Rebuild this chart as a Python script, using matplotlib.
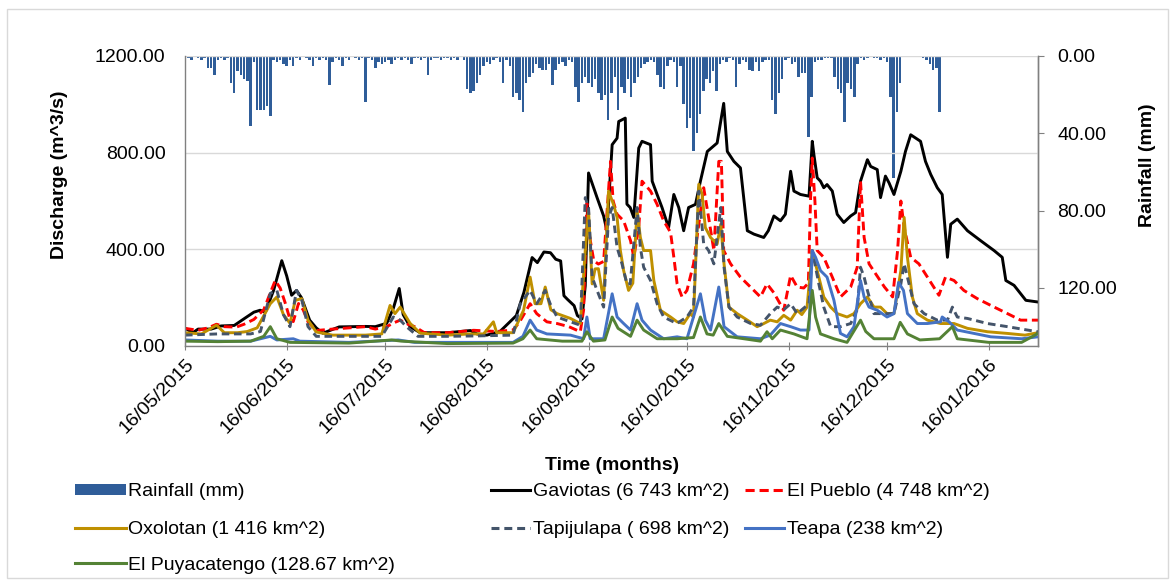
import numpy as np
import matplotlib
matplotlib.use("Agg")
import matplotlib.pyplot as plt
import matplotlib.dates as mdates
from matplotlib.lines import Line2D
from matplotlib.patches import Patch, Rectangle
from datetime import datetime

plt.rcParams['font.family'] = ['Liberation Sans', 'DejaVu Sans']

START = datetime(2015, 5, 16)
END_DAY = 260

tick_labels = ["16/05/2015", "16/06/2015", "16/07/2015", "16/08/2015", "16/09/2015",
               "16/10/2015", "16/11/2015", "16/12/2015", "16/01/2016"]
tick_dates = [datetime(2015, 5, 16), datetime(2015, 6, 16), datetime(2015, 7, 16),
              datetime(2015, 8, 16), datetime(2015, 9, 16), datetime(2015, 10, 16),
              datetime(2015, 11, 16), datetime(2015, 12, 16), datetime(2016, 1, 16)]

# Daily rainfall (mm), day 0 = 16/05/2015
rainfall = [2, 1, 2, 0, 1, 2, 1, 6, 6, 10, 2, 1, 2, 1, 14, 19, 8, 10, 12, 13,
            36, 3, 28, 28, 28, 26, 31, 2, 3, 2, 4, 5, 2, 5, 1, 2, 0, 1, 2, 5,
            1, 2, 1, 2, 15, 3, 1, 2, 5, 1, 2, 0, 1, 2, 1, 24, 1, 2, 6, 3,
            4, 3, 2, 4, 2, 1, 2, 1, 2, 4, 1, 1, 2, 1, 10, 2, 1, 1, 2, 1,
            1, 2, 1, 2, 0, 2, 17, 19, 18, 14, 10, 5, 3, 4, 2, 1, 3, 14, 2, 5,
            21, 19, 23, 29, 14, 11, 9, 4, 6, 7, 7, 4, 15, 7, 4, 3, 5, 2, 3, 16,
            24, 14, 11, 14, 16, 12, 19, 23, 20, 33, 19, 11, 28, 16, 19, 12, 21, 14, 11, 6,
            4, 3, 2, 3, 10, 16, 17, 5, 2, 3, 16, 5, 25, 37, 32, 49, 40, 30, 18, 12,
            14, 8, 18, 4, 2, 3, 1, 2, 16, 4, 2, 3, 7, 8, 3, 8, 3, 2, 2, 23,
            30, 19, 12, 2, 1, 4, 3, 11, 9, 9, 42, 21, 3, 2, 2, 1, 1, 1, 11, 17,
            19, 34, 14, 17, 21, 4, 1, 2, 1, 0, 1, 1, 2, 1, 3, 21, 63, 29, 14, 0,
            0, 0, 0, 0, 0, 1, 2, 4, 7, 6, 29]

gav_days = [0, 2.4, 4, 8, 11, 15, 18.8, 21, 22.9, 24.5, 27, 29.5, 31, 32.5, 34, 35.5, 38, 40, 42, 47,
            55, 58, 61.5, 63.5, 65.3, 66.5, 68.6, 71.7, 80, 87, 89, 92, 96, 101, 103.3, 105.8, 107.4, 109.4, 111.4, 113,
            114.5, 115.5, 116.5, 118.6, 119.6, 121, 122, 123, 125.6, 127.6, 128.6, 130.2, 131.7, 132.2, 134.2, 134.7, 135.7, 136.8, 138.3, 139.3,
            141.9, 142.4, 143.9, 145.4, 147.4, 149, 150.5, 152, 153.5, 155.6, 157.1, 159.2, 162.2, 164.2, 165.3, 167.3, 169.3, 171.4, 173.4, 176.4,
            177.8, 179.5, 181.5, 183, 184.6, 185.6, 187.6, 190.2, 191.2, 191.7, 192.7, 193.7, 194.7, 195.7, 197.3, 198.8, 200.8, 202.9, 204.4, 205.9,
            208, 209, 211, 212, 213.5, 214.6, 216.1, 218.2, 219.6, 221.2, 224.2, 225.7, 227.3, 229.3, 230.8, 232.4, 233.4, 235.4, 238.5, 242.5,
            246.6, 249.1, 250.2, 252.7, 256.3, 260]
gaviotas = [74, 55, 70, 70, 83, 85, 120, 140, 148, 140, 230, 353, 290, 210, 230, 200, 107, 75, 53, 79,
            81, 80, 94, 156, 238, 130, 80, 55, 55, 64, 50, 45, 60, 126, 222, 366, 345, 389, 386, 359,
            352, 208, 194, 167, 126, 112, 249, 716, 614, 538, 477, 833, 860, 929, 943, 587, 573, 532, 819, 847,
            833, 682, 627, 573, 490, 627, 573, 477, 573, 586, 682, 805, 840, 1004, 805, 764, 737, 477, 463, 449,
            477, 538, 518, 545, 723, 641, 627, 620, 847, 791, 696, 682, 655, 668, 641, 545, 511, 538, 552, 682,
            771, 743, 730, 614, 703, 675, 627, 723, 805, 874, 847, 764, 710, 655, 627, 367, 504, 525, 477, 436,
            395, 367, 271, 251, 189, 182]

pue_days = [0, 4, 7, 9.6, 12, 15.6, 18, 21, 24, 26, 27.5, 29, 30.5, 32, 33, 34.6, 36, 37.5, 40, 45,
            50, 55, 58, 61.5, 63.5, 65.6, 68, 70, 73, 80, 88, 95, 100, 102, 105.2, 107.2, 110.3, 113.4, 117, 120.5,
            121.5, 122.5, 123.5, 124.6, 126, 127.6, 129.7, 130.5, 131.7, 133.7, 135.8, 136.8, 138.3, 139.3, 141.9, 143.9, 145.9, 148, 149, 150,
            151.5, 153, 155, 158.1, 159.6, 161.2, 162.7, 163.5, 164.2, 166.3, 169.3, 173.4, 175.4, 177.4, 179.5, 182.5, 184.6, 186.6, 188.6, 190,
            190.7, 191.2, 192, 192.7, 194.7, 197.3, 199.8, 202.9, 204.9, 205.9, 207, 208.5, 210.5, 213.2, 215.7, 217.2, 218.2, 219.2, 221.2, 223.7,
            226.3, 229.8, 231.8, 234.4, 237.4, 241.5, 245.6, 250.7, 254.7, 260]
el_pueblo = [73, 65, 75, 90, 80, 78, 90, 110, 150, 220, 271, 240, 180, 110, 101, 176, 150, 100, 64, 70,
             75, 80, 70, 80, 95, 107, 90, 80, 55, 55, 65, 60, 66, 100, 175, 134, 100, 93, 80, 59,
             150, 590, 440, 353, 339, 350, 764, 600, 545, 518, 436, 367, 490, 682, 641, 586, 518, 470, 367, 257,
             203, 230, 340, 655, 532, 395, 764, 764, 395, 340, 285, 230, 203, 257, 220, 148, 292, 244, 240, 260,
             620, 778, 600, 395, 367, 285, 203, 244, 326, 682, 449, 340, 299, 244, 203, 395, 600, 490, 367, 340,
             285, 210, 285, 271, 230, 196, 168, 134, 107, 107]

oxo_days = [0, 5, 9.6, 12, 16, 19, 22, 26, 28, 30, 32, 33.6, 35.6, 37.5, 40, 45, 55, 60, 62.5, 64,
            65.6, 68.6, 71.7, 80, 87, 91, 94, 95, 100, 103.2, 105.2, 106.7, 108.5, 109.8, 111.5, 113.4, 117.5, 120.5, 122, 123,
            124.1, 125, 126, 127.6, 129.1, 130.6, 131.7, 132.7, 133.7, 135.2, 136.5, 137.8, 138.8, 139.8, 141.9, 142.9, 144.9, 148, 150, 152,
            154, 155, 156.6, 157.6, 158.6, 160.2, 162.2, 163.3, 164.3, 165.8, 168.3, 171.4, 174.4, 176, 178.4, 180.5, 182.5, 184.6, 186.6, 188,
            189.6, 191.2, 192.7, 194.7, 196.8, 198.8, 201.8, 203.9, 205.9, 208, 210, 212, 214, 216.1, 218.2, 219.2, 220.2, 221.7, 223.2, 226.3,
            230.3, 234.4, 238.5, 244.6, 250.7, 256, 260]
oxolotan = [55, 50, 86, 55, 55, 60, 75, 175, 203, 130, 94, 189, 196, 107, 58, 45, 45, 50, 168, 134,
            161, 94, 53, 45, 50, 50, 100, 55, 55, 148, 285, 175, 175, 244, 150, 134, 114, 93, 395, 559,
            257, 319, 320, 189, 641, 586, 532, 395, 312, 230, 260, 559, 449, 395, 395, 271, 148, 120, 100, 93,
            134, 120, 669, 629, 490, 449, 422, 504, 340, 161, 134, 107, 80, 90, 107, 100, 127, 107, 148, 130,
            161, 395, 312, 203, 161, 134, 120, 134, 175, 203, 161, 161, 134, 134, 312, 532, 367, 203, 134, 107,
            93, 93, 73, 59, 52, 45, 55]

tap_days = [0, 10, 20, 23, 26, 28, 30, 32, 34, 35.6, 37.5, 40, 50, 60, 63.5, 65.6, 67.5, 71, 80, 90,
            100, 102.2, 105.2, 107.2, 109.8, 111.3, 113.4, 117.5, 120.5, 122, 123, 124.1, 125.6, 127.6, 129.1, 130.2, 131.7, 133.2, 134.7, 135.7,
            137.8, 138.8, 139.8, 141.9, 143.9, 145.9, 149.9, 153, 155, 156.6, 158.1, 159.6, 161.2, 163.3, 164.3, 165.8, 168.3, 172.4, 175.4, 178.4,
            180.5, 182.5, 184.6, 186.6, 190.2, 191.2, 193.2, 194.7, 196.8, 199.8, 202.9, 204.9, 205.9, 207, 208, 210, 212, 216.1, 218.2, 219.2,
            220.7, 222.2, 225.3, 229.3, 232.4, 233.9, 235.4, 238.5, 244.6, 250.7, 256.8, 260]
tapijulapa = [45, 50, 50, 60, 218, 230, 130, 80, 230, 190, 80, 40, 40, 40, 120, 107, 80, 40, 40, 42,
              45, 175, 230, 175, 230, 175, 120, 100, 86, 614, 573, 285, 230, 161, 532, 573, 408, 340, 257, 257,
              573, 408, 326, 271, 175, 120, 93, 120, 161, 641, 422, 395, 340, 573, 326, 161, 120, 93, 86, 134,
              161, 150, 175, 134, 175, 395, 257, 161, 80, 80, 93, 150, 326, 285, 230, 134, 134, 134, 257, 340,
              257, 175, 134, 107, 107, 161, 120, 114, 93, 80, 66, 59]

tea_days = [0, 10, 20, 26, 28, 33, 35, 50, 65, 70, 90, 100, 103, 105.2, 107.2, 110.3, 117.5, 121.5, 122.5, 123.5,
            127.6, 130.2, 131.7, 133.7, 135.8, 137.8, 139.3, 141.9, 145.9, 150, 153, 157.1, 158.6, 160.2, 162.7, 164.3, 168.3, 175.4, 178.4, 181.5,
            184.6, 187.6, 190.2, 191.2, 192.2, 193.7, 195.7, 197.8, 199.8, 201.8, 203.9, 205.9, 207, 208.5, 211, 214, 216.1, 217.5, 219, 220.2,
            223.2, 226.3, 230.3, 230.8, 232.9, 235.4, 240.5, 245.6, 255, 260]
teapa = [25, 20, 20, 40, 25, 30, 20, 15, 25, 15, 15, 15, 40, 107, 66, 50, 45, 30, 120, 30,
         30, 216, 120, 93, 66, 175, 107, 66, 30, 38, 30, 216, 107, 66, 244, 80, 38, 30, 45, 93,
         80, 66, 66, 395, 367, 312, 285, 189, 52, 38, 80, 271, 203, 161, 148, 120, 134, 263, 230, 134,
         93, 93, 100, 120, 100, 66, 52, 38, 30, 38]

puy_days = [0, 10, 20, 24, 26, 28, 32, 50, 63, 66, 80, 100, 103, 105.2, 107.2, 115, 121, 122.5, 124.5, 128,
            130.2, 132, 135.8, 137.8, 139.8, 143.9, 150, 155, 157.1, 159.1, 161, 162.7, 165.3, 175.4, 177.4, 179, 181.5, 185.6, 189.6, 191.2,
            192.2, 193.7, 197.8, 201.8, 205.9, 207.5, 210, 216.1, 218, 220.2, 224, 230, 233.9, 235.4, 245, 255, 260]
puyacatengo = [20, 18, 20, 40, 80, 30, 15, 12, 25, 20, 10, 12, 30, 66, 30, 20, 20, 59, 20, 25,
               120, 73, 40, 107, 66, 30, 30, 35, 120, 50, 45, 93, 40, 20, 59, 30, 66, 50, 30, 230,
               120, 50, 30, 15, 107, 60, 30, 30, 98, 50, 25, 30, 80, 30, 15, 15, 52]

W, H = 1175, 582
fig = plt.figure(figsize=(W / 100, H / 100), dpi=100)
fig.patches.append(Rectangle((7 / W, 4 / H), (W - 14) / W, (H - 13) / H, transform=fig.transFigure,
                             fill=False, edgecolor='#D9D9D9', linewidth=1.0))

ax = fig.add_axes([185 / W, 1 - 346 / H, (1038 - 185) / W, (346 - 56) / H])
ax2 = ax.twinx()
ax.set_zorder(2)
ax.patch.set_visible(False)
ax2.set_zorder(1)

t0 = mdates.date2num(START)

def xs(days):
    return t0 + np.asarray(days, dtype=float)

RAIN_COLOR = '#2F5D99'
rain_x = xs(np.arange(len(rainfall)))
ax2.bar(rain_x, rainfall, width=0.75, color=RAIN_COLOR, linewidth=0)
ax2.set_ylim(150, 0)
ax2.set_yticks([0, 40, 80, 120])
ax2.set_yticklabels(["0.00", "40.00", "80.00", "120.00"])
ax2.tick_params(axis='y', which='both', length=4, width=0.8, color='#808080', pad=10, labelsize=14)

lw = 2.1
ax.plot(xs(gav_days), gaviotas, color='black', lw=lw, solid_joinstyle='round')
ax.plot(xs(pue_days), el_pueblo, color='#FF0000', lw=lw, dashes=(3, 1.6))
ax.plot(xs(oxo_days), oxolotan, color='#BF9000', lw=lw)
ax.plot(xs(tap_days), tapijulapa, color='#44546A', lw=lw, dashes=(2.6, 1.6))
ax.plot(xs(tea_days), teapa, color='#4472C4', lw=lw)
ax.plot(xs(puy_days), puyacatengo, color='#548235', lw=lw)

ax.set_xlim(t0, t0 + END_DAY)
ax.set_ylim(0, 1200)
ax.set_yticks([0, 400, 800, 1200])
ax.set_yticklabels(["0.00", "400.00", "800.00", "1200.00"])
ax.tick_params(axis='y', length=0, pad=14, labelsize=14)
ax.grid(axis='y', color='#D9D9D9', linewidth=1.0)
ax.set_axisbelow(True)

ax.set_xticks([mdates.date2num(d) for d in tick_dates])
ax.set_xticklabels(tick_labels, rotation=45, ha='right', rotation_mode='anchor')
ax.tick_params(axis='x', direction='inout', length=6, width=0.8, color='#808080', pad=4, labelsize=14)

for a in (ax, ax2):
    a.spines['top'].set_visible(False)
    for s in ('left', 'right', 'bottom'):
        a.spines[s].set_color('#808080')
        a.spines[s].set_linewidth(1.0)
ax2.spines['left'].set_visible(False)
ax2.spines['bottom'].set_visible(False)

fig.text(60 / W, 1 - 175 / H, "Discharge (m^3/s)", rotation=90, ha='center', va='center',
         fontsize=14, fontweight='bold')
fig.text(1147 / W, 1 - 165 / H, "Rainfall (mm)", rotation=90, ha='center', va='center',
         fontsize=14, fontweight='bold')
fig.text(612 / W, 1 - 466 / H, "Time (months)", ha='center', va='center',
         fontsize=14, fontweight='bold')

# (handle, label, left x px, centre y px, handle length in font units)
entries = [
    (Patch(facecolor=RAIN_COLOR, edgecolor='none'), "Rainfall (mm)", 75, 492, 2.6),
    (Line2D([], [], color='black', lw=2.2), "Gaviotas (6 743 km^2)", 491, 492, 2.0),
    (Line2D([], [], color='#FF0000', lw=2.2, dashes=(3, 1.6)), "El Pueblo (4 748 km^2)", 745, 492, 2.0),
    (Line2D([], [], color='#BF9000', lw=2.2), "Oxolotan (1 416 km^2)", 75, 530, 2.6),
    (Line2D([], [], color='#44546A', lw=2.2, dashes=(2.6, 1.6)), "Tapijulapa ( 698 km^2)", 491, 530, 2.0),
    (Line2D([], [], color='#4472C4', lw=2.2), "Teapa (238 km^2)", 745, 530, 2.0),
    (Line2D([], [], color='#548235', lw=2.2), "El Puyacatengo (128.67 km^2)", 75, 565, 2.6),
]
for h, lab, x, y, hl in entries:
    fig.legend([h], [lab], loc='center left', bbox_to_anchor=(x / W, 1 - y / H),
               frameon=False, borderpad=0, borderaxespad=0, handlelength=hl,
               handleheight=0.55, handletextpad=0.15, fontsize=14)

fig.savefig("out.png", dpi=100)
